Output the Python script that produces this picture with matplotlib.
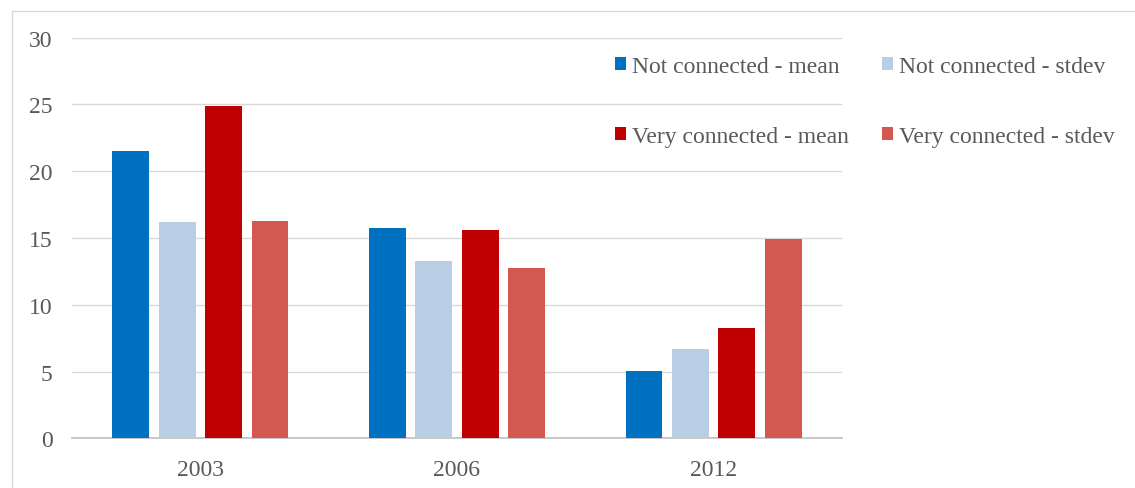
import numpy as np
import matplotlib.pyplot as plt
from matplotlib.lines import Line2D

# ── Data ────────────────────────────────────────────────────
years = ["2003", "2006", "2012"]
series_names = ["Not connected - mean", "Not connected - stdev",
                "Very connected - mean", "Very connected - stdev"]
not_conn_mean = [21.55, 15.75, 5.05]
not_conn_std = [16.2, 13.3, 6.7]
very_conn_mean = [24.85, 15.6, 8.25]
very_conn_std = [16.25, 12.75, 14.95]

colors = ["#0070C0", "#B9CDE5", "#C00000", "#D35950"]
series = [not_conn_mean, not_conn_std, very_conn_mean, very_conn_std]

# ── Figure ──────────────────────────────────────────────────
W, H = 1135, 489
plt.rcParams['font.family'] = ['Liberation Serif']
fig = plt.figure(figsize=(W / 100, H / 100), dpi=100)

# chart area border (only top and left edges fall inside the image)
bx, by = 11.5 / W, 1 - 11.5 / H
fig.add_artist(Line2D([bx, 1], [by, by], transform=fig.transFigure,
                      color="#d9d9d9", linewidth=1))
fig.add_artist(Line2D([bx, bx], [0, by], transform=fig.transFigure,
                      color="#d9d9d9", linewidth=1))

ax = fig.add_axes([72 / W, 1 - 439.3 / H, 770 / W, 400.6 / H])

x = np.arange(len(years))
bar_w = 0.144
step = 0.181
offsets = (np.arange(4) - 1.5) * step
for vals, off, col, name in zip(series, offsets, colors, series_names):
    ax.bar(x + off, vals, width=bar_w, color=col, label=name, zorder=3)

ax.set_xlim(-0.5, 2.5)
ax.set_ylim(0, 30)
ax.set_yticks(np.arange(0, 31, 5))
ax.set_xticks(x)
ax.set_xticklabels(years)
ax.yaxis.grid(True, color="#d9d9d9", linewidth=1, zorder=0)
ax.tick_params(axis='both', length=0, labelsize=17, colors="#595959")
ax.tick_params(axis='y', pad=14)
ax.tick_params(axis='x', pad=15)
for s in ["top", "right", "left"]:
    ax.spines[s].set_visible(False)
ax.spines["bottom"].set_color("#bfbfbf")
ax.spines["bottom"].set_linewidth(1.2)

handles, labels = ax.get_legend_handles_labels()
# reorder so rows read: not-connected pair, then very-connected pair
order = [0, 2, 1, 3]
leg = fig.legend([handles[i] for i in order], [labels[i] for i in order],
                 loc="upper left", bbox_to_anchor=(615 / W, 1 - 57 / H),
                 ncol=2, frameon=False, fontsize=17, borderpad=0,
                 borderaxespad=0, handlelength=0.47, handleheight=0.47,
                 handletextpad=0.25, columnspacing=1.4, labelspacing=2.06)
for t in leg.get_texts():
    t.set_color("#595959")

fig.savefig("out.png", dpi=100)
